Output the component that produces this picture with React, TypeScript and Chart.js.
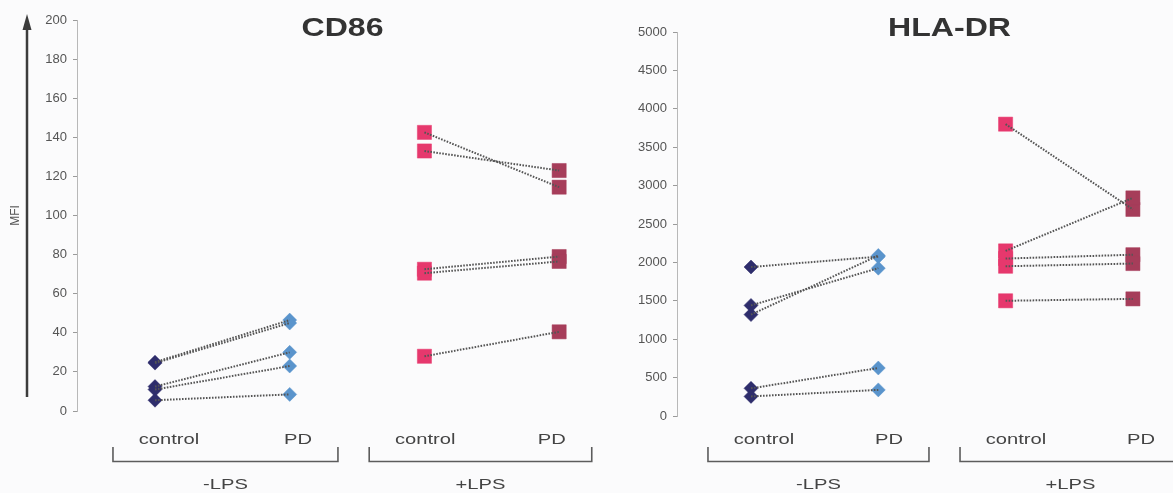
import { useEffect, useRef } from "react";
import { Chart, registerables } from "chart.js";

Chart.register(...registerables);

// Group and condition names
const groupLabels = ["-LPS", "+LPS"];
const conditionLabels = ["control", "PD"];

// CD86 MFI, one entry per donor (control paired with PD)
const cd86NoLpsControl = [25, 24.5, 12.5, 11, 5.5];
const cd86NoLpsPD = [46.5, 45, 30, 23, 8.5];
const cd86LpsControl = [142.5, 133, 72.5, 70.5, 28];
const cd86LpsPD = [114.5, 123, 79, 76.5, 40.5];

// HLA-DR MFI, one entry per donor (control paired with PD)
const hlaNoLpsControl = [1940, 1440, 1320, 360, 255];
const hlaNoLpsPD = [2075, 1925, 2090, 625, 340];
const hlaLpsControl = [3800, 2150, 2050, 1950, 1500];
const hlaLpsPD = [2690, 2840, 2100, 1985, 1525];

// Y-axis ranges
const cd86Max = 200;
const cd86Step = 20;
const hlaMax = 5000;
const hlaStep = 500;

// x positions of the four columns on the linear x scale
const columnPos = [1, 2, 3, 4];

const COLORS = {
  noLpsControl: "#2e2d6c",
  noLpsPD: "#5a94cc",
  lpsControl: "#e6386d",
  lpsPD: "#a63d5a",
  pairLine: "#555555",
  text: "#444444",
  title: "#333333",
};

function drawStretched(
  ctx: CanvasRenderingContext2D,
  text: string,
  x: number,
  y: number,
  font: string,
  color: string,
  sx: number
) {
  ctx.save();
  ctx.font = font;
  ctx.fillStyle = color;
  ctx.textAlign = "center";
  ctx.textBaseline = "alphabetic";
  ctx.translate(x, y);
  ctx.scale(sx, 1);
  ctx.fillText(text, 0, 0);
  ctx.restore();
}

// Draws panel title, column labels, group brackets and (optionally) the MFI arrow
const panelDecor = {
  id: "panelDecor",
  afterDraw(chart: any, _args: any, opts: any) {
    const ctx: CanvasRenderingContext2D = chart.ctx;
    const xs = chart.scales.x;
    const area = chart.chartArea;

    // title
    drawStretched(
      ctx,
      opts.title,
      opts.titleX,
      36,
      "bold 26.5px 'Liberation Sans', Arial, sans-serif",
      COLORS.title,
      1.21
    );

    // group brackets with labels
    const yLine = 461.5;
    const yTop = 447;
    opts.brackets.forEach((span: number[], gi: number) => {
      const x0 = xs.getPixelForValue(span[0]);
      const x1 = xs.getPixelForValue(span[1]);
      ctx.save();
      ctx.strokeStyle = "#5c5c5c";
      ctx.lineWidth = 1.6;
      ctx.beginPath();
      ctx.moveTo(x0, yTop);
      ctx.lineTo(x0, yLine);
      ctx.lineTo(x1, yLine);
      ctx.lineTo(x1, yTop);
      ctx.stroke();
      ctx.restore();

      const labelFont = "15.5px 'Liberation Sans', Arial, sans-serif";
      drawStretched(ctx, conditionLabels[0], x0 + 56, 444, labelFont, COLORS.text, 1.3);
      drawStretched(ctx, conditionLabels[1], x1 - 40, 444, labelFont, COLORS.text, 1.3);
      drawStretched(ctx, groupLabels[gi], (x0 + x1) / 2, 489, labelFont, COLORS.text, 1.3);
    });

    // y-axis arrow with MFI label
    if (opts.arrow) {
      const ax = 27;
      ctx.save();
      ctx.strokeStyle = "#3c3c3c";
      ctx.fillStyle = "#3c3c3c";
      ctx.lineWidth = 2.5;
      ctx.beginPath();
      ctx.moveTo(ax, 397);
      ctx.lineTo(ax, 26);
      ctx.stroke();
      ctx.beginPath();
      ctx.moveTo(ax, 14);
      ctx.lineTo(ax - 4.5, 30);
      ctx.lineTo(ax + 4.5, 30);
      ctx.closePath();
      ctx.fill();
      ctx.restore();

      ctx.save();
      ctx.translate(16, (area.top + area.bottom) / 2);
      ctx.rotate(-Math.PI / 2);
      ctx.font = "12px 'Liberation Sans', Arial, sans-serif";
      ctx.fillStyle = "#555";
      ctx.textAlign = "center";
      ctx.textBaseline = "middle";
      ctx.fillText("MFI", 0, 0);
      ctx.restore();
    }
  },
};

function pointSet(pos: number, values: number[], style: string, radius: number, color: string) {
  return {
    data: values.map((v) => ({ x: pos, y: v })),
    showLine: false,
    pointStyle: style,
    pointRadius: radius,
    pointHoverRadius: radius,
    pointBackgroundColor: color,
    pointBorderColor: color,
    pointBorderWidth: 0.5,
    order: 2,
  };
}

function pairLines(posA: number, posB: number, a: number[], b: number[]) {
  return a.map((v, i) => ({
    data: [
      { x: posA, y: v },
      { x: posB, y: b[i] },
    ],
    showLine: true,
    borderColor: COLORS.pairLine,
    borderWidth: 2,
    borderDash: [1.6, 1.4],
    pointRadius: 0,
    pointHoverRadius: 0,
    order: 1,
  }));
}

function buildDatasets(nc: number[], np: number[], lc: number[], lp: number[]) {
  return [
    pointSet(columnPos[0], nc, "rectRot", 7, COLORS.noLpsControl),
    pointSet(columnPos[1], np, "rectRot", 7, COLORS.noLpsPD),
    pointSet(columnPos[2], lc, "rect", 10, COLORS.lpsControl),
    pointSet(columnPos[3], lp, "rect", 10, COLORS.lpsPD),
    ...pairLines(columnPos[0], columnPos[1], nc, np),
    ...pairLines(columnPos[2], columnPos[3], lc, lp),
  ];
}

type PanelCfg = {
  datasets: any[];
  yMax: number;
  yStep: number;
  xMin: number;
  xMax: number;
  padTop: number;
  padBottom: number;
  padRight: number;
  title: string;
  titleX: number;
  brackets: number[][];
  arrow: boolean;
};

function makeChart(canvas: HTMLCanvasElement, cfg: PanelCfg) {
  return new Chart(canvas, {
    type: "scatter",
    data: { datasets: cfg.datasets },
    options: {
      responsive: false,
      animation: false,
      events: [],
      layout: {
        autoPadding: false,
        padding: { top: cfg.padTop, bottom: cfg.padBottom, left: 0, right: cfg.padRight },
      },
      plugins: {
        legend: { display: false },
        tooltip: { enabled: false },
        panelDecor: {
          title: cfg.title,
          titleX: cfg.titleX,
          brackets: cfg.brackets,
          arrow: cfg.arrow,
        },
      } as any,
      scales: {
        x: { type: "linear", display: false, min: cfg.xMin, max: cfg.xMax },
        y: {
          min: 0,
          max: cfg.yMax,
          ticks: {
            stepSize: cfg.yStep,
            padding: 6,
            color: "#555",
            font: { family: "'Liberation Sans', Arial, sans-serif", size: 13 },
            callback: (value: any) => String(value),
          },
          grid: {
            drawOnChartArea: false,
            drawTicks: true,
            tickLength: 4,
            tickColor: "#9a9a9a",
          },
          border: { display: true, color: "#b8b8b8", width: 1 },
          afterFit(scale: any) {
            scale.width = 77;
          },
        },
      },
    } as any,
    plugins: [panelDecor as any],
  });
}

export default function App() {
  const leftRef = useRef<HTMLCanvasElement>(null);
  const rightRef = useRef<HTMLCanvasElement>(null);

  useEffect(() => {
    const left = makeChart(leftRef.current!, {
      datasets: buildDatasets(cd86NoLpsControl, cd86NoLpsPD, cd86LpsControl, cd86LpsPD),
      yMax: cd86Max,
      yStep: cd86Step,
      xMin: 0.421,
      xMax: 4.229,
      padTop: 20,
      padBottom: 82,
      padRight: 10,
      title: "CD86",
      titleX: 342.5,
      brackets: [
        [0.688, 2.358],
        [2.59, 4.242],
      ],
      arrow: true,
    });
    const right = makeChart(rightRef.current!, {
      datasets: buildDatasets(hlaNoLpsControl, hlaNoLpsPD, hlaLpsControl, hlaLpsPD),
      yMax: hlaMax,
      yStep: hlaStep,
      xMin: 0.4187,
      xMax: 4.315,
      padTop: 32,
      padBottom: 77,
      padRight: 0,
      title: "HLA-DR",
      titleX: 349.5,
      brackets: [
        [0.662, 2.398],
        [2.642, 4.378],
      ],
      arrow: false,
    });
    return () => {
      left.destroy();
      right.destroy();
    };
  }, []);

  return (
    <div
      style={{
        position: "absolute",
        left: 0,
        top: 0,
        width: 1173,
        height: 493,
        background: "#fbfbfc",
        overflow: "hidden",
      }}
    >
      <canvas
        ref={leftRef}
        width={600}
        height={493}
        style={{ position: "absolute", left: 0, top: 0, width: 600, height: 493 }}
      />
      <canvas
        ref={rightRef}
        width={573}
        height={493}
        style={{ position: "absolute", left: 600, top: 0, width: 573, height: 493 }}
      />
    </div>
  );
}
